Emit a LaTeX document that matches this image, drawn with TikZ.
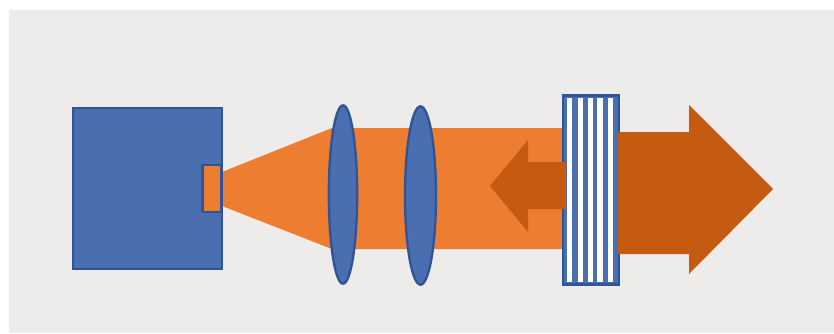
\documentclass[tikz,border=0pt]{standalone}
\usetikzlibrary{shapes.geometric}
\definecolor{wallgray}{HTML}{EDECEA}
\definecolor{partblue}{HTML}{4A6FB0}
\definecolor{edgeblue}{HTML}{2F5597}
\definecolor{beamorange}{HTML}{ED7D31}
\definecolor{outorange}{HTML}{C55A11}
\begin{document}
\begin{tikzpicture}[x=0.03cm,y=-0.03cm,
  part/.style={draw=edgeblue,line width=2pt,fill=partblue,inner sep=0pt},
  lens/.style={part,ellipse,minimum height=5.35cm},
  beam/.style={fill=beamorange},
  output/.style={fill=outorange}]
  \useasboundingbox (0,0) rectangle (834,333);
  \fill[wallgray] (9,10) rectangle (834,333);
  % beam
  \fill[beam] (222,172) -- (332,128) -- (565,128) -- (565,249) -- (332,249) -- (222,206) -- cycle;
  % parts
  \node[part,minimum width=4.46cm,minimum height=4.82cm] (camera) at (147.5,188.5){};
  \node[part,fill=beamorange,minimum width=0.57cm,minimum height=1.41cm] (emitter) at (212,188.5){};
  \node[lens,minimum width=0.85cm] (lens1) at (343,194.5){};
  \node[lens,minimum width=0.93cm] (lens2) at (420.5,195.5){};
  \node[part,minimum width=1.68cm,minimum height=5.66cm] (mirror) at (591,190){};
  \foreach \x in {569.5,580.5,590.5,600,610.3}
    \fill[white] (\x-2.8,97.5) rectangle (\x+2.8,281.5);
  % arrows
  \fill[output] (566,162) -- (528,162) -- (528,140) -- (490,186) -- (528,232) -- (528,209) -- (566,209) -- cycle;
  \fill[output] (618,132) -- (689,132) -- (689,105) -- (773,189) -- (689,274) -- (689,254) -- (618,254) -- cycle;
\end{tikzpicture}
\end{document}
